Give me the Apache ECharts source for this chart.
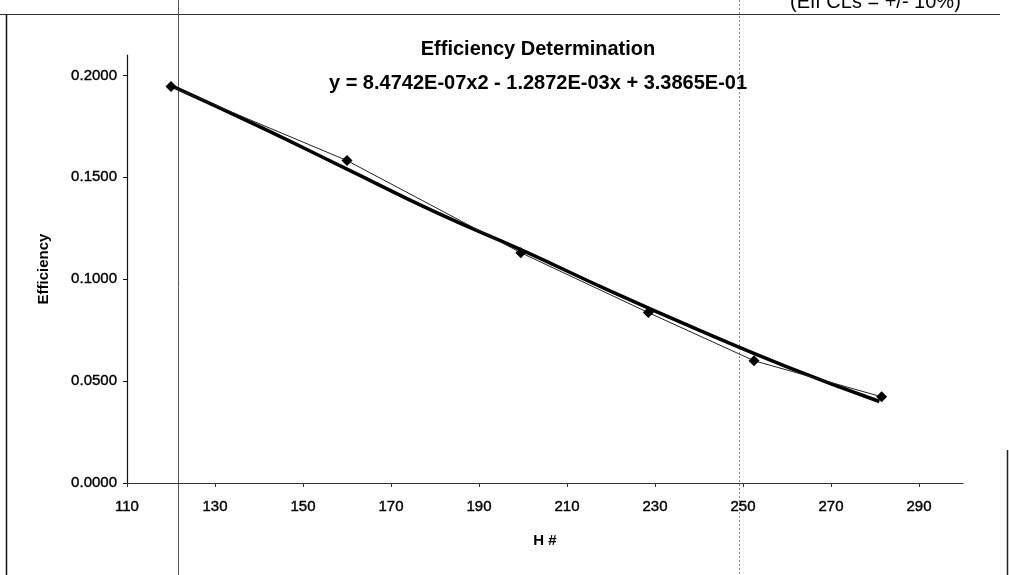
<!DOCTYPE html>
<html>
<head>
<meta charset="utf-8">
<script src="https://cdn.jsdelivr.net/npm/echarts@6/dist/echarts.min.js"></script>
<style>
  html, body { margin: 0; padding: 0; background: #ffffff; }
  #chart { width: 1009px; height: 575px; }
</style>
</head>
<body>
<div id="chart"></div>
<script>
// Measured efficiency at each H #
const hValues   = [120, 160, 199.5, 228.5, 252.5, 281.5];
const effValues = [0.1945, 0.1582, 0.1130, 0.0836, 0.0600, 0.0423];

// Second-order trendline through the measurements
const trendH   = [120, 140, 160, 180, 200, 220, 240, 260, 281];
const trendEff = [0.195, 0.175, 0.154, 0.133, 0.114, 0.094, 0.075, 0.057, 0.040];

// Axis tick labels
const xTicks = [110, 130, 150, 170, 190, 210, 230, 250, 270, 290];
const yTicks = [0, 0.05, 0.10, 0.15, 0.20];

const titleText    = 'Efficiency Determination';
const equationText = 'y = 8.4742E-07x2 - 1.2872E-03x + 3.3865E-01';
const noteText     = '(Eff CLs = +/- 10%)';

const FONT = "'Liberation Sans', Arial, sans-serif";

const pairs = (xs, ys) => xs.map((x, i) => [x, ys[i]]);

const chart = echarts.init(document.getElementById('chart'), null, { renderer: 'canvas' });

chart.setOption({
  animation: false,
  backgroundColor: '#ffffff',
  textStyle: { fontFamily: FONT },
  grid: { left: 127, right: 46, top: 55, bottom: 92, containLabel: false },
  xAxis: {
    type: 'value',
    min: 110, max: 300, interval: 20,
    name: 'H #',
    nameLocation: 'middle',
    nameGap: 50,
    nameTextStyle: { fontFamily: FONT, fontSize: 15, fontWeight: 'bold', color: '#000' },
    axisLine: { show: true, onZero: false, lineStyle: { color: '#333', width: 1 } },
    axisTick: { show: true, inside: false, length: 4, customValues: xTicks, lineStyle: { color: '#333' } },
    axisLabel: {
      customValues: xTicks, margin: 16,
      fontFamily: FONT, fontSize: 15, color: '#000',
      textBorderColor: '#000', textBorderWidth: 0.4
    },
    splitLine: { show: false }
  },
  yAxis: {
    type: 'value',
    min: 0, max: 0.21,
    name: 'Efficiency',
    nameLocation: 'middle',
    nameGap: 76,
    nameTextStyle: { fontFamily: FONT, fontSize: 15, fontWeight: 'bold', color: '#000' },
    axisLine: { show: true, lineStyle: { color: '#111', width: 1.2 } },
    axisTick: { show: true, inside: false, length: 4, customValues: yTicks, lineStyle: { color: '#111' } },
    axisLabel: {
      customValues: yTicks, margin: 10,
      fontFamily: FONT, fontSize: 15, color: '#000',
      textBorderColor: '#000', textBorderWidth: 0.4,
      formatter: v => v.toFixed(4)
    },
    splitLine: { show: false }
  },
  series: [
    {
      name: 'Trend',
      type: 'line',
      data: pairs(trendH, trendEff),
      smooth: true,
      showSymbol: false,
      lineStyle: { color: '#000', width: 3.5 },
      z: 2
    },
    {
      name: 'Efficiency',
      type: 'line',
      data: pairs(hValues, effValues),
      symbol: 'diamond',
      symbolSize: 11,
      itemStyle: { color: '#000' },
      lineStyle: { color: '#222', width: 1 },
      z: 3
    }
  ],
  graphic: [
    // page rules around the chart
    { type: 'line', shape: { x1: 0, y1: 14.5, x2: 1000, y2: 14.5 }, style: { stroke: '#333', lineWidth: 1 }, z: -1 },
    { type: 'line', shape: { x1: 6.5, y1: 14, x2: 6.5, y2: 575 }, style: { stroke: '#111', lineWidth: 1.5 }, z: -1 },
    { type: 'line', shape: { x1: 178.5, y1: 0, x2: 178.5, y2: 575 }, style: { stroke: '#555', lineWidth: 1 }, z: -1 },
    { type: 'line', shape: { x1: 739.5, y1: 0, x2: 739.5, y2: 575 }, style: { stroke: '#888', lineWidth: 1, lineDash: [2, 2] }, z: -1 },
    { type: 'line', shape: { x1: 1007.5, y1: 450, x2: 1007.5, y2: 575 }, style: { stroke: '#222', lineWidth: 1.5 }, z: -1 },
    // chart title and trendline equation
    {
      type: 'text',
      style: {
        text: titleText, x: 538, y: 49,
        textAlign: 'center', textVerticalAlign: 'middle',
        font: "bold 20px 'Liberation Sans', Arial, sans-serif",
        fill: '#000'
      }
    },
    {
      type: 'text',
      style: {
        text: equationText, x: 538, y: 83,
        textAlign: 'center', textVerticalAlign: 'middle',
        font: "bold 20px 'Liberation Sans', Arial, sans-serif",
        fill: '#000'
      }
    },
    {
      type: 'text',
      style: {
        text: noteText, x: 790, y: 2,
        textVerticalAlign: 'middle',
        font: "20px 'Liberation Sans', Arial, sans-serif",
        fill: '#000'
      }
    }
  ]
});
</script>
</body>
</html>
